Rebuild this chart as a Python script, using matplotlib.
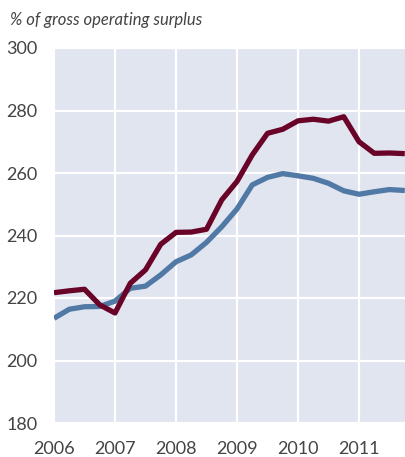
import numpy as np
import matplotlib
matplotlib.use("Agg")
import matplotlib.pyplot as plt

# Quarterly observations, 2006 Q1 .. 2011 Q4
quarters = np.arange(2006.0, 2011.76, 0.25)
red_series = [221.7, 222.3, 222.8, 217.8, 215.2, 224.7, 229.0, 237.2,
              241.0, 241.1, 242.0, 251.4, 257.3, 265.8, 272.7, 274.0,
              276.7, 277.2, 276.6, 278.0, 270.0, 266.3, 266.4, 266.2]
blue_series = [213.5, 216.4, 217.2, 217.3, 219.0, 223.1, 223.8, 227.4,
               231.6, 233.8, 237.8, 242.8, 248.5, 256.2, 258.6, 259.8,
               259.1, 258.3, 256.7, 254.3, 253.2, 254.0, 254.7, 254.4]
x_ticks = [2006, 2007, 2008, 2009, 2010, 2011]
y_ticks = [180, 200, 220, 240, 260, 280, 300]
title = "% of gross operating surplus"

plt.rcParams['font.family'] = ['Lato', 'DejaVu Sans']

fig = plt.figure(figsize=(4.06, 4.57), dpi=100)
ax = fig.add_axes([54/406, 1-423/457, 352/406, 375/457])
ax.set_facecolor('#e1e5f0')

ax.plot(quarters, blue_series, color='#5079a5', lw=3.8, solid_capstyle='butt', zorder=3)
ax.plot(quarters, red_series, color='#6a0328', lw=3.8, solid_capstyle='butt', zorder=4)

ax.set_xlim(2006, 2011.77)
ax.set_ylim(180, 300)
ax.set_xticks(x_ticks)
ax.set_xticklabels([str(t) for t in x_ticks])
ax.set_yticks(y_ticks)
ax.grid(True, color='white', lw=1.6)
ax.set_axisbelow(True)
for s in ax.spines.values():
    s.set_visible(False)
ax.tick_params(axis='both', length=0, labelsize=13, colors='#444444')
ax.tick_params(axis='y', pad=12)
ax.tick_params(axis='x', pad=13)

fig.text(10/406, 1-20/457, title, fontsize=12, style='italic', color='#444444',
         va='center', ha='left')

fig.savefig('out.png', dpi=100)
